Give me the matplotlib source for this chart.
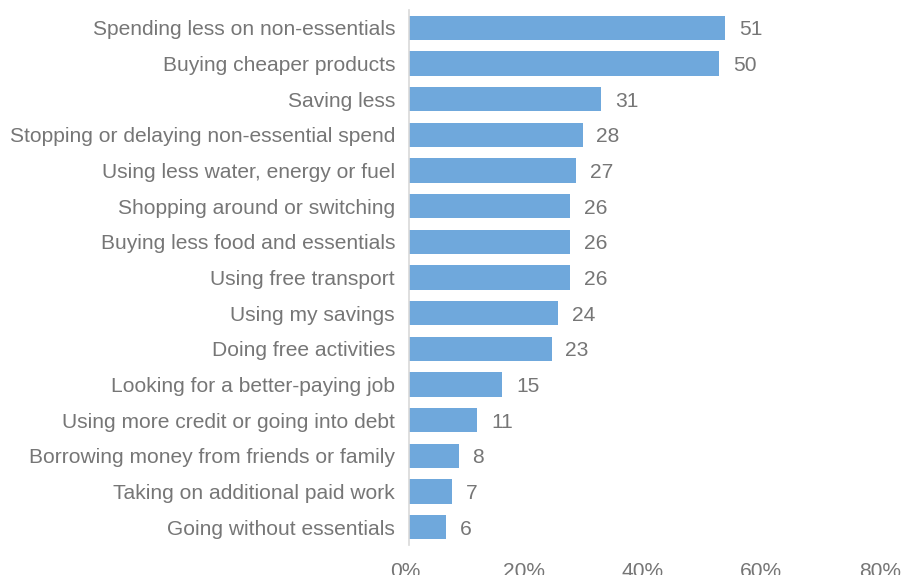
import matplotlib.pyplot as plt
from matplotlib.ticker import FuncFormatter

plt.rcParams['font.family'] = ['Liberation Sans', 'DejaVu Sans']

categories = [
    "Spending less on non-essentials",
    "Buying cheaper products",
    "Saving less",
    "Stopping or delaying non-essential spend",
    "Using less water, energy or fuel",
    "Shopping around or switching",
    "Buying less food and essentials",
    "Using free transport",
    "Using my savings",
    "Doing free activities",
    "Looking for a better-paying job",
    "Using more credit or going into debt",
    "Borrowing money from friends or family",
    "Taking on additional paid work",
    "Going without essentials",
]
values = [51, 50, 31, 28, 27, 26, 26, 26, 24, 23, 15, 11, 8, 7, 6]
xticks = [0, 20, 40, 60, 80]

bar_color = '#6FA8DC'
text_color = '#767676'
fs = 15.1

fig = plt.figure(figsize=(9.22, 5.75), dpi=100)
bottom = 1 - 545 / 575
height = 535 / 575
ax = fig.add_axes([409 / 922, bottom, 496 / 922, height])

ypos = list(range(len(categories)))
ax.barh(ypos, values, height=0.68, color=bar_color)

for y, v in zip(ypos, values):
    ax.annotate(str(v), (v, y), xytext=(10, 0), textcoords='offset points',
                va='center_baseline', ha='left', fontsize=fs, color=text_color)

ax.set_ylim(len(categories) - 0.5, -0.5)
ax.set_xlim(0, 80)
ax.set_yticks(ypos)
ax.set_yticklabels(categories, fontsize=fs, color=text_color)
ax.set_xticks([])
ax.tick_params(axis='y', length=0, pad=10)

for s in ['top', 'right', 'bottom']:
    ax.spines[s].set_visible(False)
ax.spines['left'].set_color('#D9D9D9')
ax.spines['left'].set_linewidth(1.2)

# the percent labels in the original sit on a slightly narrower scale
# (0% at ~405px, 80% at ~880px) than the bars, so give them their own axes
ax_lab = fig.add_axes([405 / 922, bottom, 475 / 922, 0.001])
ax_lab.set_xlim(0, 80)
ax_lab.set_xticks(xticks)
ax_lab.xaxis.set_major_formatter(FuncFormatter(lambda x, p: f"{x:.0f}%"))
ax_lab.tick_params(axis='x', labelsize=fs, colors=text_color, length=0, pad=12)
ax_lab.set_yticks([])
ax_lab.patch.set_visible(False)
for s in ax_lab.spines.values():
    s.set_visible(False)

fig.savefig('out.png', dpi=100)
